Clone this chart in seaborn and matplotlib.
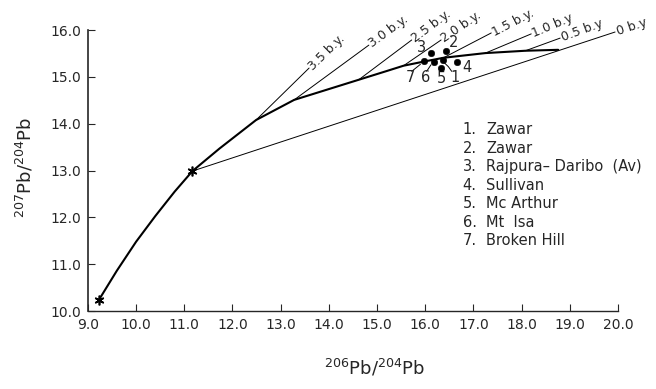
import numpy as np
import pandas as pd
import seaborn as sns
import matplotlib.pyplot as plt

# Courbe de croissance du plomb
curve_x = [9.23, 9.60, 10.00, 10.40, 10.80, 11.17, 11.73, 12.49, 13.28, 14.62, 15.18,
           15.55, 15.93, 16.38, 17.25, 18.08, 18.76]
curve_y = [10.24, 10.86, 11.48, 12.03, 12.55, 12.99, 13.47, 14.08, 14.51, 14.94, 15.12,
           15.24, 15.32, 15.41, 15.51, 15.56, 15.58]

# Isochrones : début, fin, étiquette
iso_labels = ["3.5 b.y.", "3.0 b.y.", "2.5 b.y.", "2.0 b.y.", "1.5 b.y.",
              "1.0 b.y", "0.5 b.y", "0 b.y"]
iso_x0 = [12.49, 13.28, 14.62, 15.55, 16.38, 17.25, 18.08, 11.17]
iso_y0 = [14.08, 14.51, 14.94, 15.24, 15.41, 15.51, 15.56, 12.99]
iso_x1 = [13.59, 14.83, 15.72, 16.33, 17.37, 18.20, 18.80, 19.94]
iso_y1 = [15.19, 15.68, 15.79, 15.79, 15.94, 15.92, 15.83, 15.96]

# Échantillons
sample_num = ["1", "2", "3", "4", "5", "6", "7"]
sample_x = [16.36, 16.44, 16.13, 16.67, 16.32, 16.18, 15.97]
sample_y = [15.36, 15.56, 15.51, 15.32, 15.19, 15.32, 15.34]
sample_names = ["Zawar", "Zawar", "Rajpura\u2013 Daribo  (Av)", "Sullivan",
                "Mc Arthur", "Mt  Isa", "Broken Hill"]
num_x = [16.61, 16.59, 15.93, 16.86, 16.34, 16.01, 15.70]
num_y = [14.99, 15.73, 15.62, 15.21, 14.97, 14.99, 14.99]

sns.set_style("ticks")
plt.rcParams["font.family"] = ["DejaVu Sans"]

fig = plt.figure(figsize=(6.56, 3.89), dpi=100)
ax = fig.add_axes([0.134, 0.2005, 0.808, 0.722])

curve = pd.DataFrame({"x": curve_x, "y": curve_y})
sns.lineplot(data=curve, x="x", y="y", sort=False, color="black", lw=1.5, ax=ax)

for i in range(len(iso_labels)):
    ax.plot([iso_x0[i], iso_x1[i]], [iso_y0[i], iso_y1[i]], color="black", lw=0.7)
    ang = np.degrees(np.arctan2(iso_y1[i] - iso_y0[i], iso_x1[i] - iso_x0[i]))
    ax.text(iso_x1[i] + 0.03, iso_y1[i], iso_labels[i], rotation=ang,
            transform_rotates_text=True, rotation_mode="anchor",
            ha="left", va="center", fontsize=9, clip_on=False)

# étoiles aux points de départ
ax.plot([curve_x[0], curve_x[5]], [curve_y[0], curve_y[5]], ls="none",
        marker=(6, 2, 0), ms=7, mew=1.2, color="black")

samples = pd.DataFrame({"x": sample_x, "y": sample_y})
sns.scatterplot(data=samples, x="x", y="y", color="black", s=22,
                edgecolor="black", zorder=5, ax=ax)

for n, tx, ty in zip(sample_num, num_x, num_y):
    ax.text(tx, ty, n, fontsize=10.5, ha="center", va="center")

# petits traits de rappel
ax.plot([15.72, 15.90], [15.12, 15.27], color="black", lw=0.7)
ax.plot([16.03, 16.12], [15.12, 15.26], color="black", lw=0.7)
ax.plot([16.55, 16.48, 16.40], [15.12, 15.22, 15.30], color="black", lw=0.7)

# légende des échantillons
for i, (n, name) in enumerate(zip(sample_num, sample_names)):
    ty = 13.87 - i * 0.395
    ax.text(16.78, ty, n + ".", fontsize=10.5, ha="left", va="center")
    ax.text(17.27, ty, name, fontsize=10.5, ha="left", va="center", clip_on=False)

ax.set_xlim(9, 20)
ax.set_ylim(10, 16)
ax.set_xticks(np.arange(9, 20.1, 1.0))
ax.set_yticks(np.arange(10, 16.1, 1.0))
ax.set_xticklabels([f"{v:.1f}" for v in np.arange(9, 20.1, 1.0)])
ax.set_yticklabels([f"{v:.1f}" for v in np.arange(10, 16.1, 1.0)])
ax.tick_params(direction="in", length=5, width=0.8, labelsize=10, pad=5)
sns.despine(ax=ax)
ax.spines["left"].set_linewidth(1.2)
ax.spines["bottom"].set_linewidth(1.0)

ax.set_xlabel(r"$^{206}$Pb/$^{204}$Pb", fontsize=13)
ax.set_ylabel(r"$^{207}$Pb/$^{204}$Pb", fontsize=13)
ax.xaxis.set_label_coords(0.54, -0.165)
ax.yaxis.set_label_coords(-0.098, 0.51)

fig.savefig("out.png", dpi=100)
